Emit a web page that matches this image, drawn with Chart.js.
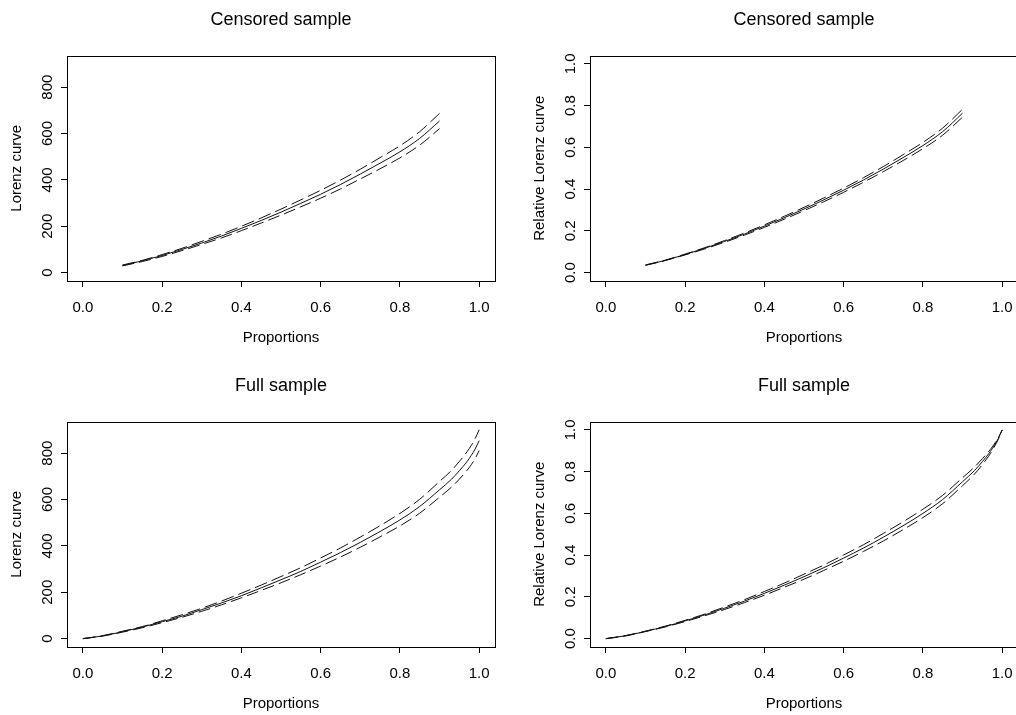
<!DOCTYPE html>
<html>
<head>
<meta charset="utf-8">
<script src="https://cdn.jsdelivr.net/npm/chart.js@4.4.0/dist/chart.umd.min.js"></script>
<style>
  html, body { margin: 0; padding: 0; background: #fff; width: 1016px; height: 715px; overflow: hidden; }
  canvas { position: absolute; }
</style>
</head>
<body>
<canvas id="censLorenz" width="508" height="366" style="left:0;top:0"></canvas>
<canvas id="censRel" width="508" height="366" style="left:523px;top:0"></canvas>
<canvas id="fullLorenz" width="508" height="366" style="left:0;top:366px"></canvas>
<canvas id="fullRel" width="508" height="366" style="left:523px;top:366px"></canvas>
<script>
// proportions (x)
const pCens = [0.1, 0.15, 0.2, 0.25, 0.3, 0.35, 0.4, 0.45, 0.5, 0.55, 0.6, 0.65, 0.7, 0.75, 0.8, 0.85, 0.9];
const pFull = [0, 0.05, 0.1, 0.15, 0.2, 0.25, 0.3, 0.35, 0.4, 0.45, 0.5, 0.55, 0.6, 0.65, 0.7, 0.75, 0.8, 0.85, 0.9, 0.93, 0.95, 0.97, 0.98, 0.99, 1];

// censored sample - generalized Lorenz curve (estimate, upper, lower)
const censLorenzMid = [31, 51, 74, 100, 128, 158, 191, 225, 261, 299, 338, 380, 425, 472, 521, 579, 654];
const censLorenzUp  = [33, 53, 78, 105, 135, 166, 200, 236, 274, 314, 355, 399, 446, 496, 547, 608, 687];
const censLorenzLo  = [29, 48, 70, 95, 122, 150, 181, 214, 248, 284, 321, 361, 404, 448, 495, 550, 621];

// censored sample - relative Lorenz curve
const censRelMid = [.036, .059, .087, .117, .150, .185, .223, .263, .305, .349, .395, .444, .496, .551, .609, .676, .764];
const censRelUp  = [.037, .060, .089, .120, .154, .190, .229, .270, .313, .358, .405, .455, .508, .565, .624, .693, .783];
const censRelLo  = [.035, .058, .085, .114, .146, .180, .217, .256, .297, .340, .385, .433, .484, .537, .594, .659, .745];

// full sample - generalized Lorenz curve
const fullLorenzMid = [0, 12, 30, 50, 73, 97, 125, 154, 185, 219, 254, 290, 330, 371, 415, 462, 512, 570, 642, 687, 724, 765, 790, 818, 854];
const fullLorenzUp  = [0, 13, 32, 52, 77, 103, 131, 162, 196, 231, 268, 306, 348, 391, 438, 487, 540, 601, 678, 725, 764, 807, 833, 863, 901];
const fullLorenzLo  = [0, 11, 28, 47, 69, 92, 118, 146, 176, 208, 241, 276, 313, 352, 394, 439, 486, 541, 610, 653, 688, 727, 750, 777, 811];

// full sample - relative Lorenz curve
const fullRelMid = [0, .014, .035, .058, .085, .114, .146, .180, .217, .256, .297, .340, .386, .434, .486, .541, .600, .667, .752, .805, .848, .896, .925, .958, 1];
const fullRelUp  = [0, .015, .036, .060, .088, .118, .152, .187, .226, .266, .309, .353, .401, .450, .504, .560, .620, .687, .771, .822, .862, .906, .932, .962, 1];
const fullRelLo  = [0, .013, .034, .056, .082, .110, .140, .173, .208, .246, .285, .327, .371, .418, .468, .522, .580, .647, .733, .788, .834, .886, .918, .954, 1];

// tick labels
const xTicks = [0, 0.2, 0.4, 0.6, 0.8, 1.0];
const lorenzTicks = [0, 200, 400, 600, 800];
const relTicks = [0, 0.2, 0.4, 0.6, 0.8, 1.0];

Chart.defaults.font.family = '"Liberation Sans", Arial, Helvetica, sans-serif';
Chart.defaults.color = '#000';

// R-style box around the plot region
const boxPlugin = {
    id: 'box',
    afterDraw(chart) {
        const a = chart.chartArea;
        const ctx = chart.ctx;
        ctx.save();
        ctx.strokeStyle = '#000';
        ctx.lineWidth = 1;
        ctx.strokeRect(Math.round(a.left) + 0.5, Math.round(a.top) + 0.5,
            Math.round(a.right - a.left), Math.round(a.bottom - a.top));
        ctx.restore();
    }
};

function pts(xs, ys) {
    return xs.map((x, i) => ({ x: x, y: ys[i] }));
}

function makeChart(id, title, yTitle, xs, mid, up, lo, yMax, yTickVals, digits, yPad) {
    const ext = 0.04 * yMax;
    const line = (data, dash) => ({
        data: data,
        borderColor: '#111',
        borderWidth: 1,
        borderDash: dash,
        pointRadius: 0,
        fill: false,
        cubicInterpolationMode: 'monotone'
    });
    return new Chart(document.getElementById(id), {
        type: 'line',
        data: {
            datasets: [
                line(pts(xs, up), [13, 5]),
                line(pts(xs, mid), []),
                line(pts(xs, lo), [12, 5])
            ]
        },
        options: {
            responsive: false,
            animation: false,
            devicePixelRatio: 1,
            layout: { padding: { left: 0, top: 0, right: 13, bottom: 0 } },
            plugins: {
                legend: { display: false },
                tooltip: { enabled: false },
                title: {
                    display: true,
                    text: title,
                    fullSize: false,
                    color: '#000',
                    font: { size: 18, weight: 'normal' },
                    padding: { top: 9, bottom: 25 }
                }
            },
            scales: {
                x: {
                    type: 'linear',
                    min: -0.04,
                    max: 1.04,
                    afterBuildTicks: s => { s.ticks = xTicks.map(v => ({ value: v })); },
                    afterFit: s => { s.height = 85; },
                    border: { display: false },
                    grid: { display: true, drawOnChartArea: false, drawTicks: true, tickLength: 6, color: '#000' },
                    ticks: {
                        padding: 12,
                        maxRotation: 0,
                        font: { size: 15 },
                        callback: v => Number(v).toFixed(1)
                    },
                    title: { display: true, text: 'Proportions', font: { size: 15 }, padding: { top: 0, bottom: 19 } }
                },
                y: {
                    type: 'linear',
                    min: -ext,
                    max: yMax + ext,
                    afterBuildTicks: s => { s.ticks = yTickVals.map(v => ({ value: v })); },
                    afterFit: s => { s.width = 67; },
                    border: { display: false },
                    grid: { display: true, drawOnChartArea: false, drawTicks: true, tickLength: 6, color: '#000' },
                    ticks: {
                        padding: yPad,
                        minRotation: 90,
                        maxRotation: 90,
                        crossAlign: 'center',
                        font: { size: 15 },
                        callback: v => Number(v).toFixed(digits)
                    },
                    title: { display: true, text: yTitle, font: { size: 15 }, padding: { top: 8, bottom: 0 } }
                }
            }
        },
        plugins: [boxPlugin]
    });
}

makeChart('censLorenz', 'Censored sample', 'Lorenz curve', pCens,
    censLorenzMid, censLorenzUp, censLorenzLo, 900, lorenzTicks, 0, 0.5);
makeChart('censRel', 'Censored sample', 'Relative Lorenz curve', pCens,
    censRelMid, censRelUp, censRelLo, 1, relTicks, 1, 2.6);
makeChart('fullLorenz', 'Full sample', 'Lorenz curve', pFull,
    fullLorenzMid, fullLorenzUp, fullLorenzLo, 900, lorenzTicks, 0, 0.5);
makeChart('fullRel', 'Full sample', 'Relative Lorenz curve', pFull,
    fullRelMid, fullRelUp, fullRelLo, 1, relTicks, 1, 2.6);
</script>
</body>
</html>
